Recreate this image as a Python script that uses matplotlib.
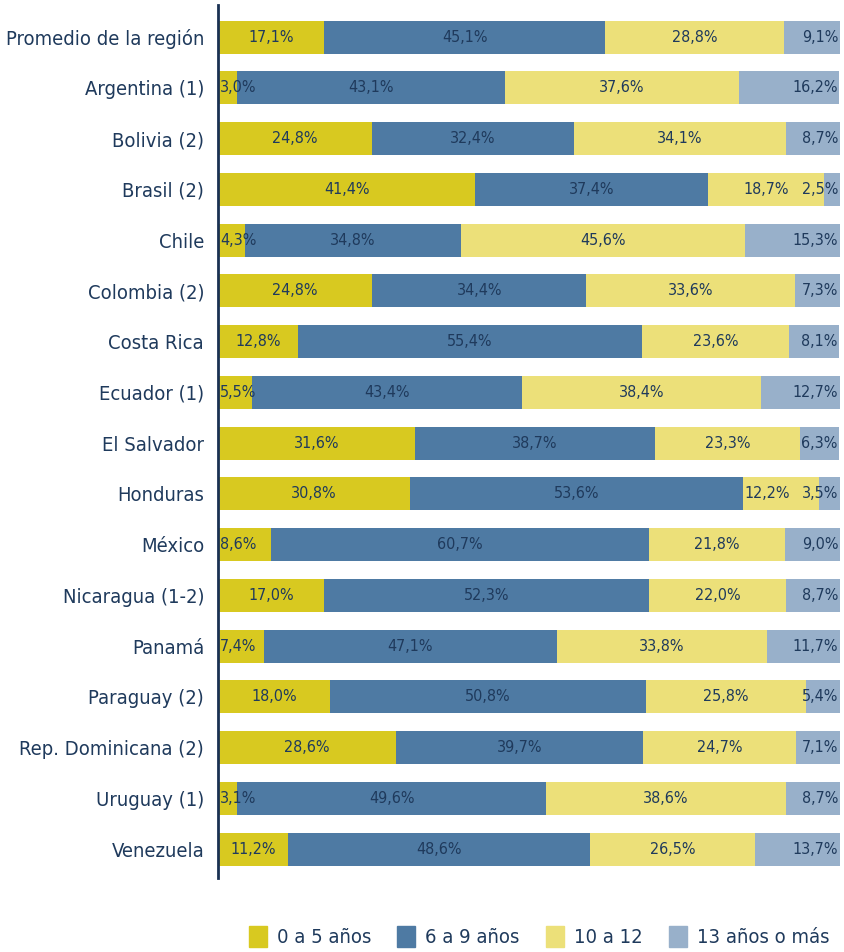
import numpy as np
import matplotlib.pyplot as plt
from matplotlib.patches import Patch

categories = ["Promedio de la región", "Argentina (1)", "Bolivia (2)", "Brasil (2)", "Chile",
              "Colombia (2)", "Costa Rica", "Ecuador (1)", "El Salvador", "Honduras", "México",
              "Nicaragua (1-2)", "Panamá", "Paraguay (2)", "Rep. Dominicana (2)", "Uruguay (1)",
              "Venezuela"]
s0_5 = [17.1, 3.0, 24.8, 41.4, 4.3, 24.8, 12.8, 5.5, 31.6, 30.8, 8.6, 17.0, 7.4, 18.0, 28.6, 3.1, 11.2]
s6_9 = [45.1, 43.1, 32.4, 37.4, 34.8, 34.4, 55.4, 43.4, 38.7, 53.6, 60.7, 52.3, 47.1, 50.8, 39.7, 49.6, 48.6]
s10_12 = [28.8, 37.6, 34.1, 18.7, 45.6, 33.6, 23.6, 38.4, 23.3, 12.2, 21.8, 22.0, 33.8, 25.8, 24.7, 38.6, 26.5]
s13 = [9.1, 16.2, 8.7, 2.5, 15.3, 7.3, 8.1, 12.7, 6.3, 3.5, 9.0, 8.7, 11.7, 5.4, 7.1, 8.7, 13.7]
series_names = ["0 a 5 años", "6 a 9 años", "10 a 12", "13 años o más"]
colors = ["#d8c920", "#4e7aa3", "#ece079", "#98b0ca"]

plt.rcParams['font.family'] = ['DejaVu Sans']
plt.rcParams['font.stretch'] = 'condensed'
text_col = "#1f3a5c"

fig = plt.figure(figsize=(8.45, 9.52), dpi=100)
ax = fig.add_axes([0.258, 0.0777, 0.736, 0.917])

data = np.array([s0_5, s6_9, s10_12, s13])
y = np.arange(len(categories))
left = np.zeros(len(categories))
for k in range(4):
    ax.barh(y, data[k], left=left, height=0.65, color=colors[k])
    for i, v in enumerate(data[k]):
        lab = f"{v:.1f}%".replace(".", ",")
        if k == 3:
            ax.text(left[i] + v - 0.3, i, lab, ha="right", va="center", fontsize=11.5, color=text_col)
        elif v < 9 or (k == 2 and v < 13):
            ax.text(left[i] + 0.3, i, lab, ha="left", va="center", fontsize=11.5, color=text_col)
        else:
            ax.text(left[i] + v / 2, i, lab, ha="center", va="center", fontsize=11.5, color=text_col)
    left += data[k]

ax.set_xlim(0, 100)
ax.set_ylim(16.57, -0.63)
ax.set_yticks(y)
ax.set_yticklabels(categories, fontsize=14.5, color=text_col)
ax.tick_params(axis="y", length=0, pad=10)
ax.set_xticks([])
for s in ["top", "right", "bottom"]:
    ax.spines[s].set_visible(False)
ax.spines["left"].set_color("#1a3153")
ax.spines["left"].set_linewidth(2)

handles = [Patch(color=c) for c in colors]
fig.legend(handles, series_names, loc="center", bbox_to_anchor=(0.638, 0.016), ncol=4,
           frameon=False, fontsize=14.5, handlelength=0.9, handleheight=1.2,
           handletextpad=0.5, columnspacing=1.3, labelcolor=text_col)

fig.savefig("out.png", dpi=100)
